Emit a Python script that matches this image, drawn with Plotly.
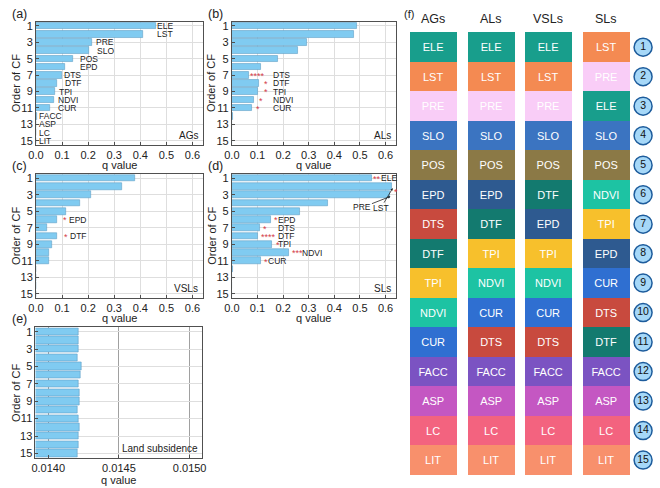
import plotly.graph_objects as go

# ---------------- data ----------------
rows = list(range(1, 16))
factors_a = ["ELE", "LST", "PRE", "SLO", "POS", "EPD", "DTS", "DTF", "TPI", "NDVI", "CUR", "FACC", "ASP", "LC", "LIT"]

q_ags = [0.460, 0.410, 0.214, 0.203, 0.140, 0.112, 0.098, 0.079, 0.073, 0.068, 0.054, 0.002, 0.001, 0.001, 0.001]
q_als = [0.488, 0.477, 0.294, 0.258, 0.179, 0.113, 0.068, 0.106, 0.102, 0.084, 0.077, 0.003, 0.0, 0.0, 0.0]
q_vsls = [0.381, 0.328, 0.209, 0.170, 0.114, 0.079, 0.042, 0.082, 0.060, 0.049, 0.048, 0.0, 0.0, 0.0, 0.0]
q_sls = [0.546, 0.626, 0.617, 0.373, 0.266, 0.151, 0.109, 0.102, 0.156, 0.224, 0.113, 0.004, 0.0, 0.0, 0.0]
q_land = [0.014211, 0.014211, 0.014216, 0.014209, 0.014234, 0.014229, 0.014216, 0.014218, 0.014218,
          0.014206, 0.014213, 0.014218, 0.014216, 0.014216, 0.014206]

xticks_q = [0.0, 0.1, 0.2, 0.3, 0.4, 0.5, 0.6]
xticks_land = [0.0140, 0.0145, 0.0150]
yticks = [1, 3, 5, 7, 9, 11, 13, 15]

# label annotations: (row, text, label x) ; stars: (row, stars, star x)
labels_a_x = [0.462, 0.462, 0.228, 0.231, 0.164, 0.164, 0.105, 0.108, 0.083, 0.081, 0.080, 0.006, 0.006, 0.006, 0.006]
labels_b = [(7, "DTS"), (8, "DTF"), (9, "TPI"), (10, "NDVI"), (11, "CUR")]
labels_b_x = 0.156
stars_b = [(7, "****", 0.068), (8, "*", 0.122), (9, "*", 0.122), (10, "*", 0.103), (11, "*", 0.091)]
labels_c = [(6, "EPD", 0.121), (8, "DTF", 0.126)]
stars_c = [(6, "*", 0.100), (8, "*", 0.105)]
labels_d = [(1, "ELE", 0.577), (6, "EPD", 0.175), (7, "DTS", 0.175), (8, "DTF", 0.175), (9, "TPI", 0.175),
            (10, "NDVI", 0.271), (11, "CUR", 0.139)]
stars_d = [(1, "**", 0.547), (6, "*", 0.162), (7, "*", 0.117), (8, "****", 0.109), (9, "*", 0.167),
           (10, "***", 0.231), (11, "*", 0.123), (2.6, "*", 0.630)]

col_names = ["AGs", "ALs", "VSLs", "SLs"]
order_ags = ["ELE", "LST", "PRE", "SLO", "POS", "EPD", "DTS", "DTF", "TPI", "NDVI", "CUR", "FACC", "ASP", "LC", "LIT"]
order_als = ["ELE", "LST", "PRE", "SLO", "POS", "EPD", "DTF", "TPI", "NDVI", "CUR", "DTS", "FACC", "ASP", "LC", "LIT"]
order_vsls = ["ELE", "LST", "PRE", "SLO", "POS", "DTF", "EPD", "TPI", "NDVI", "CUR", "DTS", "FACC", "ASP", "LC", "LIT"]
order_sls = ["LST", "PRE", "ELE", "SLO", "POS", "NDVI", "TPI", "EPD", "CUR", "DTS", "DTF", "FACC", "ASP", "LC", "LIT"]
ranks = [str(i) for i in range(1, 16)]

factor_colors = {
    "ELE": "#189e8c", "LST": "#f48a52", "PRE": "#f9cdf7", "SLO": "#3b74c1", "POS": "#8b7946",
    "EPD": "#2e5a90", "DTS": "#c84a3e", "DTF": "#137a6f", "TPI": "#f7c02c", "NDVI": "#1dc3a3",
    "CUR": "#2f6fd1", "FACC": "#7b53c2", "ASP": "#c457c2", "LC": "#f3637f", "LIT": "#f8906c",
}

# ---------------- style ----------------
W, H = 660, 488
FONT = "Arial, Liberation Sans, sans-serif"
BAR = "#80cbf1"
BAR_EDGE = "#5f9fc6"
GRID = "#dedede"
AXC = "#505050"
STAR = "#d43c4a"


def px_x(p):
    return p / W


def px_y(p):
    return 1 - p / H


fig = go.Figure()

panels = [
    ("", q_ags, (28.5, 198.5), (20, 144), [0, 0.64], xticks_q, "AGs", "(a)"),
    ("2", q_als, (228, 395), (20, 144), [0, 0.64], xticks_q, "ALs", "(b)"),
    ("3", q_vsls, (28.5, 198.5), (173.5, 298.5), [0, 0.64], xticks_q, "VSLs", "(c)"),
    ("4", q_sls, (228, 395), (173.5, 298.5), [0, 0.64], xticks_q, "SLs", "(d)"),
    ("5", q_land, (28, 198), (328, 459.5), [0.01391, 0.01509], xticks_land, "Land subsidence", "(e)"),
]

annotations = []
for name, vals, xd, yd, xr, xt, corner, plab in panels:
    xa = "x" + name
    ya = "y" + name
    is_land = name == "5"
    fig.add_trace(go.Bar(
        x=vals, y=rows, orientation="h", xaxis=xa, yaxis=ya,
        marker=dict(color=BAR, line=dict(color=BAR_EDGE, width=0.6)),
        width=0.84 if is_land else 0.8, showlegend=False, hoverinfo="x+y",
    ))
    fig.update_layout(**{
        "xaxis" + name: dict(
            domain=[px_x(xd[0]), px_x(xd[1])], anchor=ya, range=xr,
            tickvals=xt, tickformat=".4f" if is_land else ".1f",
            showgrid=True, gridcolor="#a0a0a0" if is_land else GRID, gridwidth=1,
            zeroline=False, showline=True, linecolor=AXC, linewidth=1, mirror=True,
            ticks="inside", ticklen=3, tickcolor=AXC,
            tickfont=dict(size=11, color="#222", family=FONT),
        ),
        "yaxis" + name: dict(
            domain=[px_y(yd[1]), px_y(yd[0])], anchor=xa, range=[15.5, 0.5],
            tickvals=yticks, showgrid=True, gridcolor=GRID, zeroline=False,
            showline=True, linecolor=AXC, linewidth=1, mirror=True,
            ticks="inside", ticklen=3, tickcolor=AXC,
            tickfont=dict(size=11, color="#222", family=FONT),
        ),
    })
    annotations.append(dict(text="q value", xref="paper", yref="paper",
                            x=px_x((xd[0] + xd[1]) / 2), y=px_y(yd[1] + (22 if is_land else 20.5)),
                            xanchor="center", yanchor="middle",
                            showarrow=False, font=dict(size=11, family=FONT, color="#222")))
    annotations.append(dict(text="Order of CF", xref="paper", yref="paper", textangle=-90,
                            x=px_x(xd[0] - 20.5), y=px_y((yd[0] + yd[1]) / 2), xanchor="center", yanchor="middle",
                            showarrow=False, font=dict(size=11, family=FONT, color="#222")))
    annotations.append(dict(text=corner, xref=xa + " domain", yref=ya + " domain", x=0.985, y=0.015,
                            xanchor="right", yanchor="bottom", showarrow=False,
                            font=dict(size=10, family=FONT, color="#222")))
    annotations.append(dict(text=plab, xref="paper", yref="paper", x=px_x(xd[0] - 26), y=px_y(yd[0] - 8),
                            xanchor="left", yanchor="middle", showarrow=False,
                            font=dict(size=12.5, family=FONT, color="#222")))


def lab(xa, ya, x, y, t, color="#222", size=8.5):
    annotations.append(dict(text=t, xref=xa, yref=ya, x=x, y=y, xanchor="left", yanchor="middle",
                            showarrow=False, borderpad=0, font=dict(size=size, family=FONT, color=color)))


for r, f, lx in zip(rows, factors_a, labels_a_x):
    lab("x", "y", lx, r, f)
for r, t in labels_b:
    lab("x2", "y2", labels_b_x, r, t)
for r, t, sx in stars_b:
    lab("x2", "y2", sx, r + 0.1, t, STAR, 9)
for r, t, lx in labels_c:
    lab("x3", "y3", lx, r, t)
for r, t, sx in stars_c:
    lab("x3", "y3", sx, r + 0.1, t, STAR, 9)
for r, t, lx in labels_d:
    lab("x4", "y4", lx, r, t)
for r, t, sx in stars_d:
    lab("x4", "y4", sx, r + 0.1, t, STAR, 9)

annotations.append(dict(text="LST", xref="x4", yref="y4", x=0.628, y=2.2, ax=-12, ay=20, borderpad=0,
                        showarrow=True, arrowhead=2, arrowsize=0.6, arrowwidth=0.8, arrowcolor="#222",
                        font=dict(size=8.5, family=FONT, color="#222")))
annotations.append(dict(text="PRE", xref="x4", yref="y4", x=0.619, y=3.2, ax=-28, ay=11, borderpad=0,
                        showarrow=True, arrowhead=2, arrowsize=0.6, arrowwidth=0.8, arrowcolor="#222",
                        font=dict(size=8.5, family=FONT, color="#222")))

# ---------------- panel (f) ----------------
orders = [order_ags, order_als, order_vsls, order_sls]
for ci, (cname, order) in enumerate(zip(col_names, orders)):
    fig.add_trace(go.Bar(
        x=[ci] * 15, y=[1] * 15, base=list(range(15)), xaxis="x6", yaxis="y6",
        width=0.82, marker=dict(color=[factor_colors[f] for f in order], line=dict(width=0)),
        text=order, textposition="inside", insidetextanchor="middle", textangle=0,
        textfont=dict(size=11, color="white", family=FONT), showlegend=False, hoverinfo="text",
    ))
    annotations.append(dict(text=cname, xref="x6", yref="y6", x=ci, y=-0.47, showarrow=False,
                            xanchor="center", yanchor="middle", font=dict(size=12.5, family=FONT, color="#222")))

fig.add_trace(go.Scatter(
    x=[3.65] * 15, y=[i + 0.5 for i in range(15)], xaxis="x6", yaxis="y6", mode="markers+text",
    marker=dict(size=18, color="#a6d8f8", line=dict(color="#1d5c9c", width=1.5)),
    text=ranks, textposition="middle center", textfont=dict(size=10.5, color="#111", family=FONT),
    showlegend=False, hoverinfo="skip",
))
annotations.append(dict(text="(f)", xref="paper", yref="paper", x=px_x(401), y=px_y(12), xanchor="left",
                        yanchor="middle", showarrow=False, font=dict(size=11, family=FONT, color="#222")))

fig.update_layout(
    xaxis6=dict(domain=[px_x(404), 1.0], anchor="y6", range=[-0.501, 3.875], visible=False, fixedrange=True),
    yaxis6=dict(domain=[0, 1], anchor="x6", range=[15.38, -1.033], visible=False, fixedrange=True),
)

fig.update_layout(
    width=W, height=H, margin=dict(l=0, r=0, t=0, b=0),
    paper_bgcolor="white", plot_bgcolor="white", barmode="overlay", bargap=0,
    font=dict(family=FONT, color="#222"), annotations=annotations, showlegend=False,
)

fig.write_html("out.html")
